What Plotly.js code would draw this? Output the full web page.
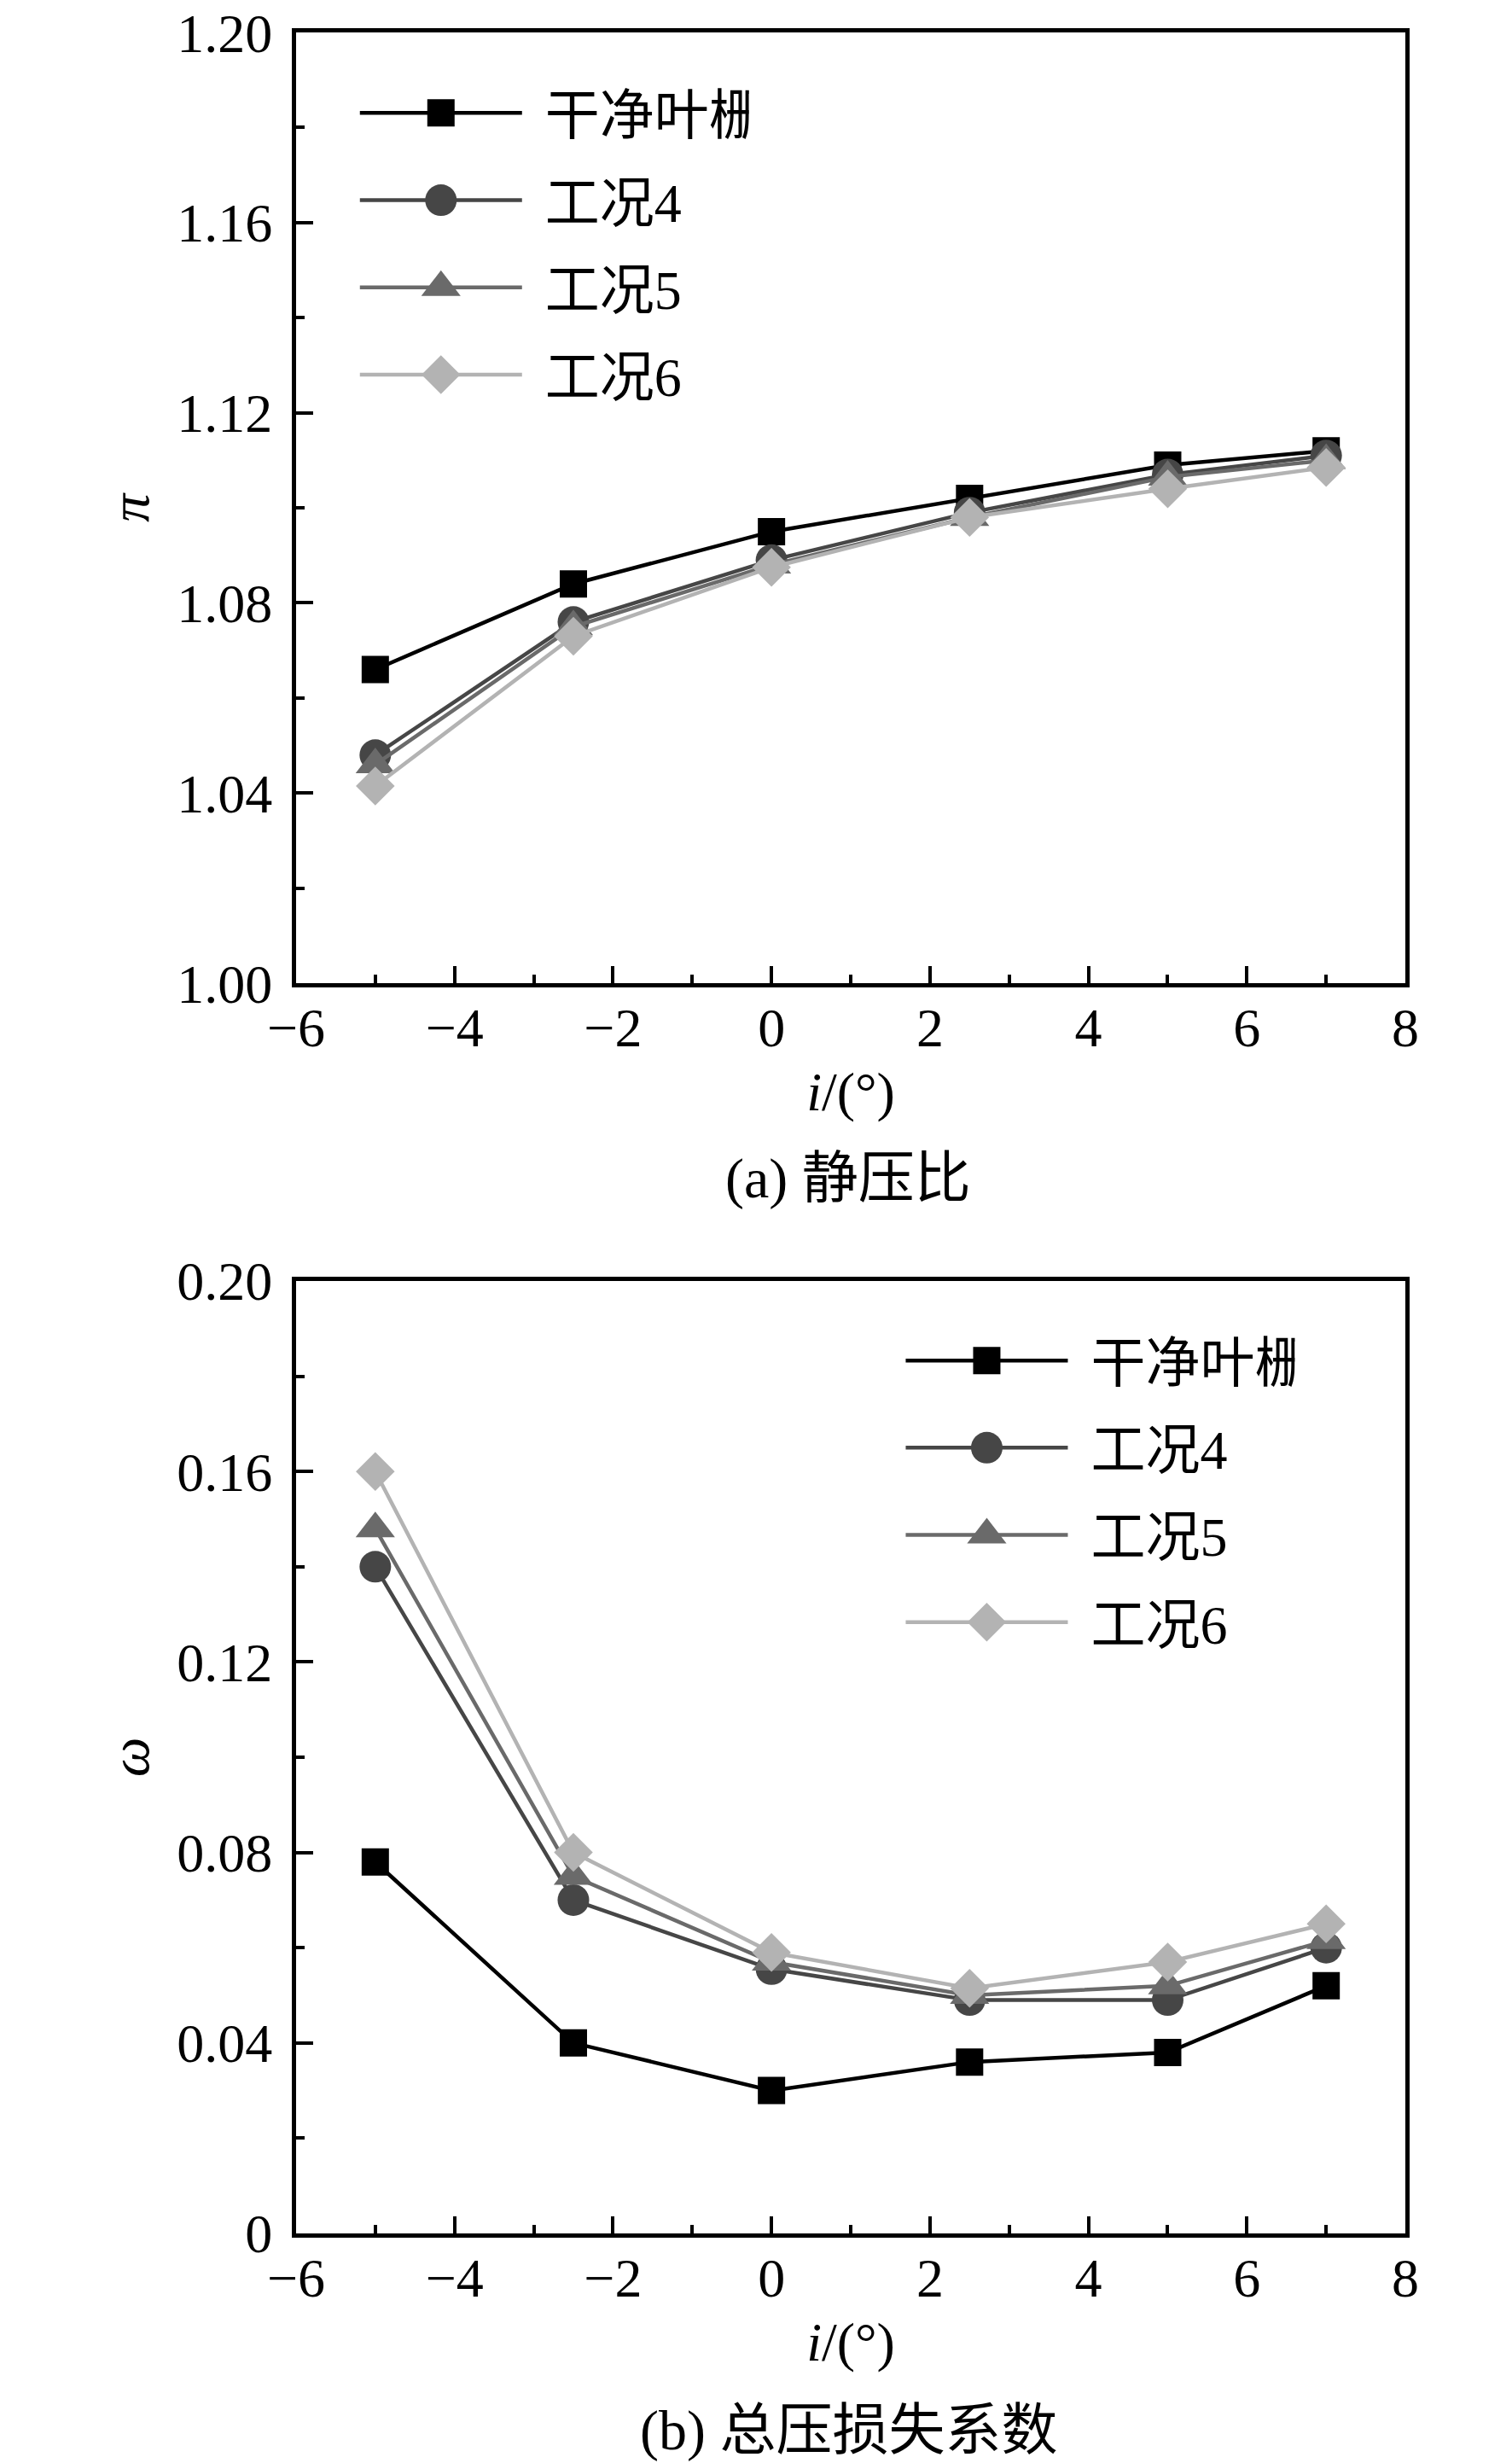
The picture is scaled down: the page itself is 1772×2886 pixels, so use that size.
<!DOCTYPE html>
<html>
<head>
<meta charset="utf-8">
<script src="https://cdn.plot.ly/plotly-3.0.1.min.js"></script>
<style>
  html, body { margin: 0; padding: 0; background: #fff; }
  #chart { width: 1772px; height: 2886px; }
</style>
</head>
<body>
<div id="chart"></div>
<script>
// incidence angle i (deg)
const incidence = [-5, -2.5, 0, 2.5, 5, 7];

// (a) static pressure ratio pi
const piClean = [1.066, 1.084, 1.095, 1.102, 1.109, 1.112];
const piCase4 = [1.048, 1.076, 1.089, 1.099, 1.107, 1.111];
const piCase5 = [1.046, 1.075, 1.088, 1.098, 1.1065, 1.110];
const piCase6 = [1.0415, 1.073, 1.0875, 1.098, 1.104, 1.1085];

// (b) total pressure loss coefficient omega
const omegaClean = [0.078, 0.040, 0.030, 0.036, 0.038, 0.052];
const omegaCase4 = [0.140, 0.070, 0.0555, 0.049, 0.049, 0.060];
const omegaCase5 = [0.148, 0.075, 0.057, 0.050, 0.052, 0.0615];
const omegaCase6 = [0.160, 0.080, 0.059, 0.0515, 0.057, 0.065];

const seriesNames = ['干净叶栅', '工况4', '工况5', '工况6'];

// tick labels
const xTickVals = [-6, -4, -2, 0, 2, 4, 6, 8];
const piTickVals = [1.00, 1.04, 1.08, 1.12, 1.16, 1.20];
const piTickText = ['1.00', '1.04', '1.08', '1.12', '1.16', '1.20'];
const omegaTickVals = [0, 0.04, 0.08, 0.12, 0.16, 0.20];
const omegaTickText = ['0', '0.04', '0.08', '0.12', '0.16', '0.20'];

const FONT = '"Liberation Serif", "Times New Roman", "Noto Sans CJK SC", serif';

// line / marker style per series
const styles = [
    { color: '#000000', symbol: 'square', size: 32 },
    { color: '#464646', symbol: 'circle', size: 37 },
    { color: '#6a6a6a', symbol: 'triangle-up', size: 40 },
    { color: '#b3b3b3', symbol: 'diamond', size: 35 }
];

function makeTraces(ys, xa, ya, legendId) {
    return ys.map((y, i) => ({
        x: incidence,
        y: y,
        xaxis: xa,
        yaxis: ya,
        type: 'scatter',
        mode: 'lines+markers',
        name: seriesNames[i],
        legend: legendId,
        legendgroup: legendId + '_' + i,
        line: { color: styles[i].color, width: 4.5 },
        marker: { symbol: styles[i].symbol, size: styles[i].size, color: styles[i].color }
    }));
}

const traces = [
    ...makeTraces([piClean, piCase4, piCase5, piCase6], 'x', 'y', 'legend'),
    ...makeTraces([omegaClean, omegaCase4, omegaCase5, omegaCase6], 'x2', 'y2', 'legend2')
];

const tickFont = { family: FONT, size: 64, color: '#000' };

const xBase = {
    range: [-6, 8],
    tickmode: 'array',
    tickvals: xTickVals,
    ticks: 'inside',
    ticklen: 20,
    tickwidth: 4,
    tickcolor: '#000',
    minor: { tickmode: 'linear', tick0: -5, dtick: 2, ticks: 'inside', ticklen: 10, tickwidth: 4, tickcolor: '#000' },
    showline: true,
    linecolor: '#000',
    linewidth: 5,
    mirror: true,
    showgrid: false,
    zeroline: false,
    tickfont: tickFont,
    ticklabelstandoff: -8,
    ticklabeloverflow: 'allow',
    title: { text: '<i>i</i>/(°)', font: { family: FONT, size: 64, color: '#000' }, standoff: 19 }
};

const yBase = {
    tickmode: 'array',
    ticks: 'inside',
    ticklen: 20,
    tickwidth: 4,
    tickcolor: '#000',
    showline: true,
    linecolor: '#000',
    linewidth: 5,
    mirror: true,
    showgrid: false,
    zeroline: false,
    tickfont: tickFont,
    ticklabelstandoff: 10,
    ticklabeloverflow: 'allow'
};

const legendBase = {
    font: { family: FONT, size: 64, color: '#000' },
    bgcolor: 'rgba(0,0,0,0)',
    borderwidth: 0,
    traceorder: 'grouped',
    tracegroupgap: 16,
    itemwidth: 190,
    xanchor: 'left',
    yanchor: 'top'
};

const layout = {
    width: 1772,
    height: 2886,
    margin: { t: 0, r: 0, b: 0, l: 0 },
    paper_bgcolor: '#fff',
    plot_bgcolor: '#fff',
    showlegend: true,
    font: { family: FONT, color: '#000' },
    xaxis: { ...xBase, domain: [0.1958, 0.9295], anchor: 'y' },
    yaxis: {
        ...yBase, domain: [0.6008, 0.9868], anchor: 'x',
        range: [1.0, 1.2], tickvals: piTickVals, ticktext: piTickText,
        minor: { tickmode: 'linear', tick0: 1.0, dtick: 0.02, ticks: 'inside', ticklen: 10, tickwidth: 4, tickcolor: '#000' },
        title: { text: '<i>π</i>', font: { family: FONT, size: 66, color: '#000' }, standoff: 13 }
    },
    xaxis2: { ...xBase, domain: [0.1958, 0.9295], anchor: 'y2' },
    yaxis2: {
        ...yBase, domain: [0.0932, 0.4799], anchor: 'x2',
        range: [0, 0.2], tickvals: omegaTickVals, ticktext: omegaTickText,
        minor: { tickmode: 'linear', tick0: 0, dtick: 0.02, ticks: 'inside', ticklen: 10, tickwidth: 4, tickcolor: '#000' },
        title: { text: '<i>ω</i>', font: { family: FONT, size: 66, color: '#000' }, standoff: 13 }
    },
    legend: { ...legendBase, x: 0.2352, y: 0.9708 },
    legend2: { ...legendBase, x: 0.5962, y: 0.4643 },
    annotations: [
        {
            text: '(a) 静压比', xref: 'paper', yref: 'paper', x: 0.561, y: 1 - 1381 / 2886,
            xanchor: 'center', yanchor: 'middle', showarrow: false,
            font: { family: FONT, size: 66, color: '#000' }
        },
        {
            text: '(b) 总压损失系数', xref: 'paper', yref: 'paper', x: 0.561, y: 1 - 2848 / 2886,
            xanchor: 'center', yanchor: 'middle', showarrow: false,
            font: { family: FONT, size: 66, color: '#000' }
        }
    ]
};

// plotly clamps legend symbols to 16px, so blow them up to the plot marker size,
// and push the labels away from the sample line a bit
function fixLegends(gd) {
    gd.querySelectorAll('.legendpoints path.scatterpts').forEach(p => {
        if (p.dataset.scaled) return;
        const d = p.__data__;
        const idx = d && d.trace ? seriesNames.indexOf(d.trace.name) : -1;
        const k = idx >= 0 ? styles[idx].size / 16 : 2.2;
        const t = p.getAttribute('transform') || '';
        p.setAttribute('transform', t + ' scale(' + k + ')');
        p.dataset.scaled = '1';
    });
    gd.querySelectorAll('.infolayer text').forEach(t => {
        if (seriesNames.includes(t.textContent.trim())) {
            t.setAttribute('transform', 'translate(22,0)');
        }
    });
}

Plotly.newPlot('chart', traces, layout, { staticPlot: true }).then(gd => {
    fixLegends(gd);
    setTimeout(() => fixLegends(gd), 0);
    setTimeout(() => fixLegends(gd), 200);
});
</script>
</body>
</html>
